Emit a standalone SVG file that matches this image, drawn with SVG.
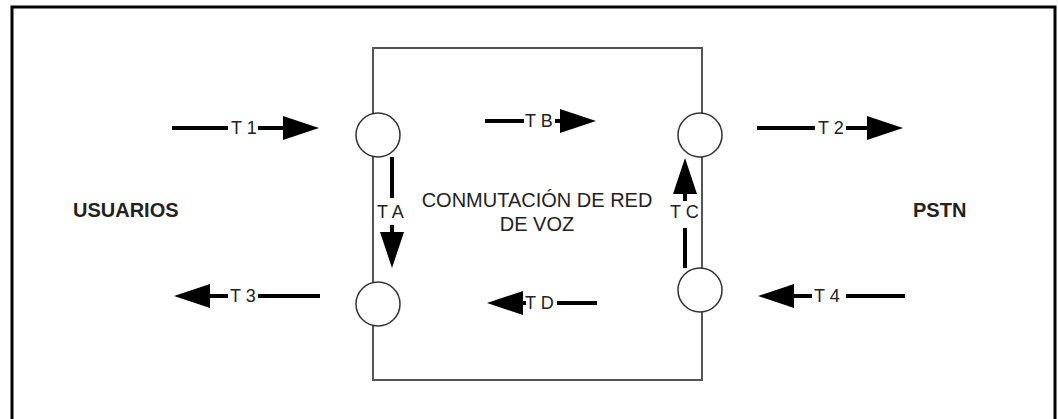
<svg xmlns="http://www.w3.org/2000/svg" width="1058" height="419" viewBox="0 0 1058 419">
<defs>
<marker id="ah" markerUnits="userSpaceOnUse" markerWidth="36" markerHeight="24" viewBox="0 0 36 24" refX="0" refY="12" orient="auto">
<path d="M0,0 L36,12 L0,24 Z" fill="#000"/>
</marker>
</defs>
<style>
.frame{fill:none;stroke:#000;stroke-width:3}
.box{fill:none;stroke:#555;stroke-width:2}
.port{fill:#fff;stroke:#333;stroke-width:1.5}
.ln{stroke:#000;stroke-width:4;fill:none}
.arr{stroke:#000;stroke-width:4;fill:none;marker-end:url(#ah)}
.lbl{font-family:"Liberation Sans",Arial,sans-serif;font-size:18px;fill:#222}
.ctr{font-family:"Liberation Sans",Arial,sans-serif;font-size:20px;fill:#222;text-anchor:middle}
.side{font-family:"Liberation Sans",Arial,sans-serif;font-size:20px;font-weight:bold;fill:#222}
</style>
<rect width="1058" height="419" fill="#fff"/>
<path class="frame" d="M12,425 V7 H1055 V425"/>
<g id="switch">
<rect class="box" x="373" y="48" width="329" height="332"/>
<text class="ctr" x="537" y="207">CONMUTACIÓN DE RED</text>
<text class="ctr" x="537" y="231">DE VOZ</text>
</g>
<g id="port-in-user"><circle class="port" cx="378" cy="135" r="22"/></g>
<g id="port-out-user"><circle class="port" cx="378" cy="304" r="22"/></g>
<g id="port-out-pstn"><circle class="port" cx="700" cy="135" r="22"/></g>
<g id="port-in-pstn"><circle class="port" cx="700" cy="290" r="22"/></g>
<g id="usuarios"><text class="side" x="73" y="217">USUARIOS</text></g>
<g id="pstn"><text class="side" x="913" y="217">PSTN</text></g>
<g id="connectors">
<line class="ln" x1="172" y1="128" x2="228" y2="128"/>
<line class="arr" x1="258" y1="128" x2="283" y2="128"/>
<line class="ln" x1="485" y1="121" x2="524" y2="121"/>
<line class="arr" x1="555" y1="121" x2="560" y2="121"/>
<line class="ln" x1="757" y1="128" x2="815" y2="128"/>
<line class="arr" x1="846" y1="128" x2="867" y2="128"/>
<line class="arr" x1="228" y1="296" x2="210" y2="296"/>
<line class="ln" x1="258" y1="296" x2="320" y2="296"/>
<line class="arr" x1="812" y1="296" x2="794" y2="296"/>
<line class="ln" x1="846" y1="296" x2="905" y2="296"/>
<line class="arr" x1="526" y1="303" x2="523" y2="303"/>
<line class="ln" x1="557" y1="303" x2="597" y2="303"/>
<line class="ln" x1="392" y1="157" x2="392" y2="198"/>
<line class="arr" x1="392" y1="225" x2="392" y2="232"/>
<line class="ln" x1="685" y1="268" x2="685" y2="228"/>
<line class="arr" x1="685" y1="201" x2="685" y2="194"/>
</g>
<g id="labels">
<text class="lbl" x="231" y="134">T 1</text>
<text class="lbl" x="525" y="127">T B</text>
<text class="lbl" x="818" y="134">T 2</text>
<text class="lbl" x="230" y="302">T 3</text>
<text class="lbl" x="814" y="302">T 4</text>
<text class="lbl" x="525" y="309">T D</text>
<text class="lbl" x="377" y="218">T A</text>
<text class="lbl" x="670" y="218">T C</text>
</g>
</svg>
